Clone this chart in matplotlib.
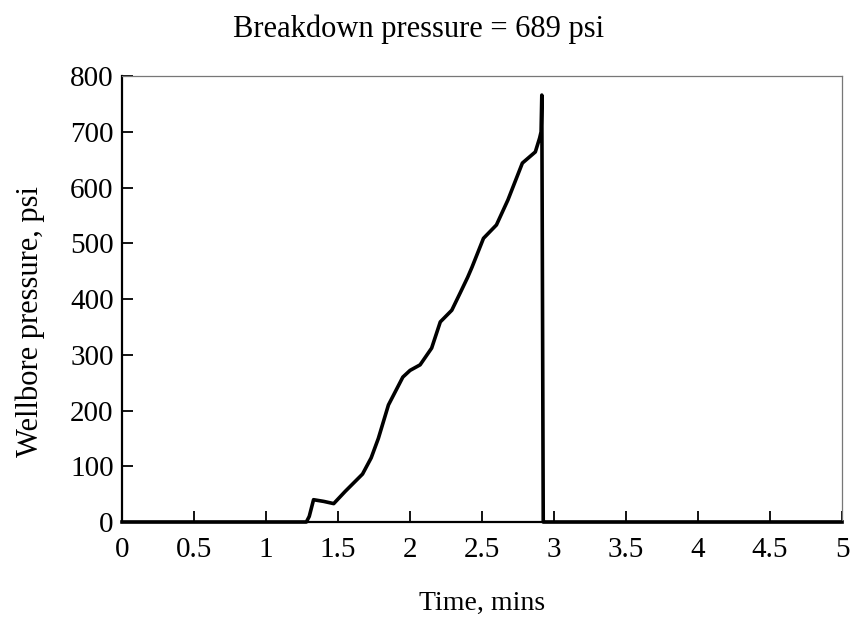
import matplotlib
matplotlib.use("Agg")
import matplotlib.pyplot as plt

# Wellbore pressure record
time_mins = [0.0, 1.28, 1.30, 1.33, 1.40, 1.47, 1.55, 1.67, 1.73, 1.78, 1.85, 1.95,
             2.00, 2.07, 2.15, 2.21, 2.29, 2.35, 2.40, 2.43, 2.51, 2.60, 2.68, 2.78,
             2.87, 2.90, 2.91, 2.915, 2.925, 2.94, 5.0]
pressure_psi = [0, 0, 10, 40, 37, 33, 55, 86, 115, 150, 210, 260,
                272, 282, 312, 359, 380, 412, 439, 457, 509, 533, 578, 644,
                664, 689, 700, 766, 0, 0, 0]

title = "Breakdown pressure = 689 psi"

plt.rcParams['font.family'] = ['Liberation Serif', 'DejaVu Serif']

fig = plt.figure(figsize=(8.54, 6.19), dpi=100)
ax = fig.add_axes([0.1429, 0.1567, 0.8431, 0.7203])

ax.plot(time_mins, pressure_psi, color='black', linewidth=2.6, clip_on=False)

ax.set_xlim(0, 5)
ax.set_ylim(0, 800)
ax.set_xticks([0, 0.5, 1, 1.5, 2, 2.5, 3, 3.5, 4, 4.5, 5])
ax.set_xticklabels(['0', '0.5', '1', '1.5', '2', '2.5', '3', '3.5', '4', '4.5', '5'])
ax.set_yticks(range(0, 801, 100))

ax.tick_params(direction='in', length=8, width=1.3, labelsize=21,
               top=False, right=False)
ax.tick_params(axis='x', pad=11)
ax.tick_params(axis='y', pad=6)
for side in ['left', 'bottom']:
    ax.spines[side].set_linewidth(1.6)
    ax.spines[side].set_color('black')
for side in ['top', 'right']:
    ax.spines[side].set_linewidth(0.9)
    ax.spines[side].set_color('#777777')

ax.set_xlabel('Time, mins', fontsize=20)
ax.set_ylabel('Wellbore pressure, psi', fontsize=22)
ax.xaxis.set_label_coords(0.5, -0.182)
ax.yaxis.set_label_coords(-0.128, 0.45)
ax.xaxis.label.set_va('center')
ax.yaxis.label.set_va('center')
fig.text(0.49, 0.953, title, ha='center', va='center', fontsize=22)

fig.savefig('out.png', dpi=100)
